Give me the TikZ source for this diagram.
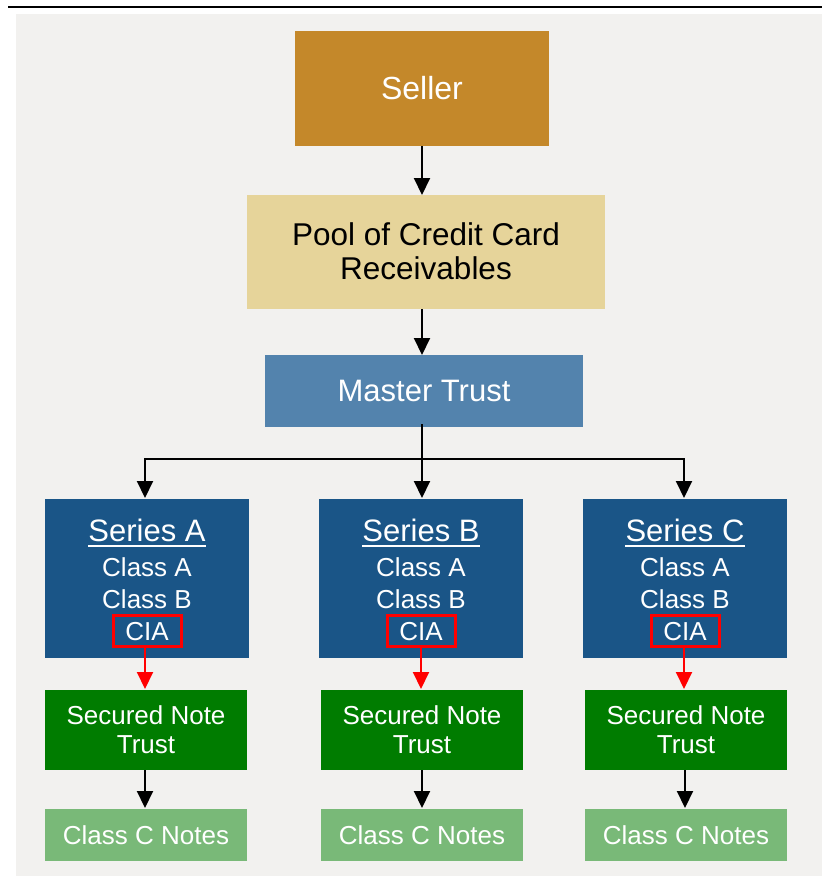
\documentclass[tikz,border=0pt]{standalone}
\usepackage{fontspec}
\setmainfont{Liberation Sans}
\usetikzlibrary{arrows.meta}
\definecolor{panel}{HTML}{F2F1EF}
\definecolor{sellerc}{HTML}{C4882A}
\definecolor{poolc}{HTML}{E6D49A}
\definecolor{masterc}{HTML}{5383AD}
\definecolor{seriesc}{HTML}{1A5587}
\definecolor{snc}{HTML}{007C00}
\definecolor{ccc}{HTML}{79B978}
\definecolor{redc}{HTML}{FF0000}
\tikzset{
  box/.style={rectangle, inner sep=0pt, draw=none},
  txt/.style={inner sep=0pt, anchor=base, text=white},
  conn/.style={draw=black, line width=2pt, -{Triangle[width=16pt,length=17pt]}},
  redconn/.style={draw=redc, line width=2pt, -{Triangle[width=16pt,length=17pt]}},
  ciabox/.style={rectangle, draw=redc, line width=3pt, inner sep=0pt, minimum width=68pt, minimum height=31pt},
}
\newcommand{\fs}[1]{\fontsize{#1}{#1}\selectfont}
\begin{document}
\begin{tikzpicture}[x=1pt,y=-1pt]
\useasboundingbox (0,0) rectangle (824,876);
\fill[panel] (16,14) rectangle (822,876);
\draw[black, line width=2.6pt] (8,7) -- (822,7);

% top chain
\node[box, fill=sellerc, minimum width=254pt, minimum height=115pt] (seller) at (422,88.5) {};
\node[txt] (sellert) at (422,99) {\fs{32}Seller};
\node[box, fill=poolc, minimum width=358pt, minimum height=114pt] (pool) at (426,252) {};
\node[txt, text=black] (poolt1) at (426,245) {\fs{31.5}Pool of Credit Card};
\node[txt, text=black] (poolt2) at (426,279) {\fs{31.5}Receivables};
\node[box, fill=masterc, minimum width=318pt, minimum height=72pt] (master) at (424,391) {};
\node[txt] (mastert) at (424,401) {\fs{31}Master Trust};

\draw[conn] (seller.south -| 422,0) -- (422,195);
\draw[conn] (pool.south -| 422,0) -- (422,355);

% series
\foreach \n/\cx/\l in {A/147/A, B/421/B, C/685/C}{
  \node[box, fill=seriesc, minimum width=204pt, minimum height=159pt] (ser\n) at (\cx,578.5) {};
  \node[txt] (st\n) at (\cx,541.5) {\fs{31}Series \l};
  \draw[white, line width=1.4pt] ([yshift=-4.5pt]st\n.base west) -- ([yshift=-4.5pt]st\n.base east);
  \node[txt] (ca\n) at (\cx,576) {\fs{26}Class A};
  \node[txt] (cb\n) at (\cx,608) {\fs{26}Class B};
  \node[txt] (ciat\n) at (\cx,640) {\fs{26}CIA};
  \node[ciabox] (cia\n) at (\cx,630.5) {};
}
\node[box, fill=snc, minimum width=202pt, minimum height=80pt] (snA) at (146,730) {};
\node[box, fill=snc, minimum width=202pt, minimum height=80pt] (snB) at (422,730) {};
\node[box, fill=snc, minimum width=202pt, minimum height=80pt] (snC) at (686,730) {};
\node[box, fill=ccc, minimum width=202pt, minimum height=52pt] (ccA) at (146,835) {};
\node[box, fill=ccc, minimum width=202pt, minimum height=52pt] (ccB) at (422,835) {};
\node[box, fill=ccc, minimum width=202pt, minimum height=52pt] (ccC) at (686,835) {};
\foreach \n/\cx in {A/146, B/422, C/686}{
  \node[txt] (snt1\n) at (\cx,724) {\fs{26}Secured Note};
  \node[txt] (snt2\n) at (\cx,753) {\fs{26}Trust};
  \node[txt] (cct\n) at (\cx,844) {\fs{26}Class C Notes};
}

% master to series
\coordinate (hub) at (422,459);
\draw[line width=2pt] (422,424) -- (hub);
\draw[conn] (hub) -- (422,498);
\draw[conn] (hub) -- (145,459) -- (145,498);
\draw[conn] (hub) -- (684,459) -- (684,498);

% red arrows
\draw[redconn] (ciaA.south -| 145,0) -- (145,689);
\draw[redconn] (ciaB.south -| 421,0) -- (421,689);
\draw[redconn] (ciaC.south -| 684,0) -- (684,689);

% secured to class C
\draw[conn] (snA.south -| 145,0) -- (145,808);
\draw[conn] (snB.south -| 422,0) -- (422,808);
\draw[conn] (snC.south -| 685,0) -- (685,808);
\end{tikzpicture}
\end{document}
